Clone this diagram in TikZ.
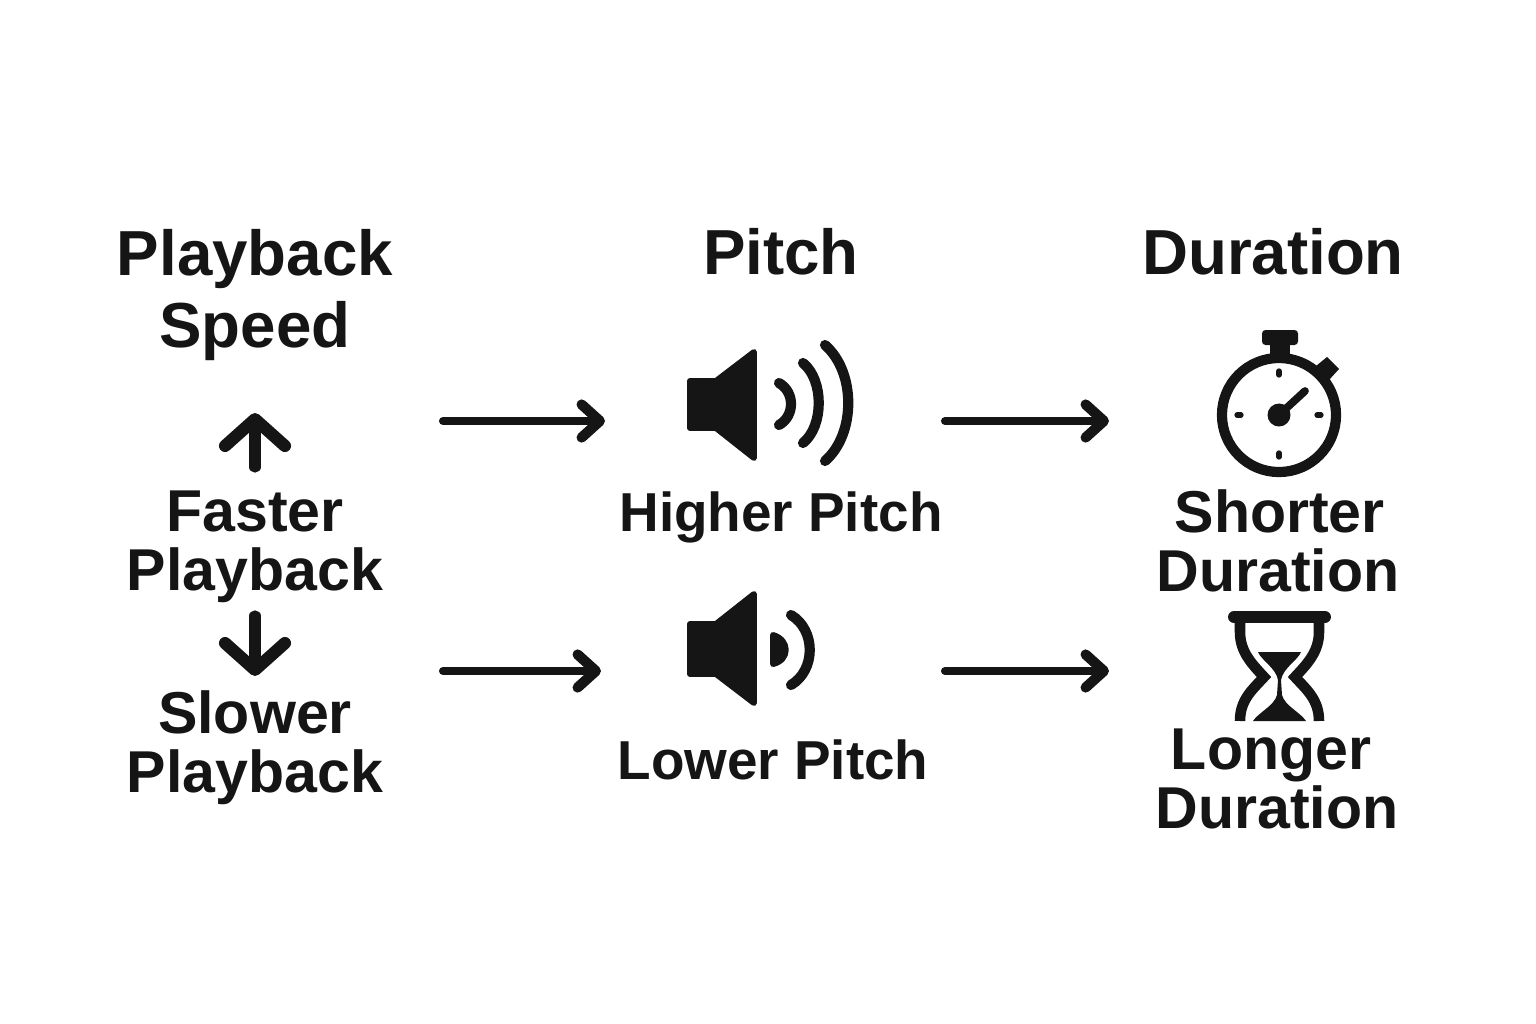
\documentclass[tikz,border=0pt]{standalone}
\usepackage{fontspec}
\setmainfont{Liberation Sans}
\usepackage{xcolor}
\usetikzlibrary{positioning,arrows.meta}
\definecolor{inkblack}{HTML}{151515}
\tikzstyle{headNode} = [text centered, align=center, text=inkblack, inner sep=0pt, font=\bfseries\fontsize{18.1}{20.4}\selectfont]
\tikzstyle{labelNode} = [text centered, align=center, text=inkblack, inner sep=0pt, font=\bfseries\fontsize{16.8}{16.7}\selectfont]
\tikzstyle{pitchNode} = [labelNode, font=\bfseries\fontsize{15.6}{16.7}\selectfont]
\tikzstyle{flowArrow} = [draw=inkblack, line width=2.3pt, line cap=round, -{Straight Barb[round,length=5.2pt,width=9.4pt,line width=2.9pt]}]
\tikzstyle{speedArrow} = [draw=inkblack, line width=3.2pt, line cap=round, -{Straight Barb[round,length=7.6pt,width=17pt,line width=3.5pt]}]
\tikzstyle{solidIcon} = [fill=inkblack, draw=inkblack, line width=1.7pt, line join=round]
\tikzstyle{waveLine} = [draw=inkblack, line cap=round, line width=2.9pt]
\tikzstyle{tickLine} = [draw=inkblack, line cap=round, line width=1.5pt]

\begin{document}
\begin{tikzpicture}[x=0.01cm,y=-0.01cm]
            \useasboundingbox (0,0) rectangle (1536,1024);
            % headings
            \node(speed) at (255,295) [headNode]{Playback\\[0.3pt]Speed};
            \node(pitch) at (781,252) [headNode]{Pitch};
            \node(duration) at (1273,252) [headNode]{Duration};
            % left column
            \node(faster) at (255,547) [labelNode]{Faster\\Playback};
            \node(slower) at (255,748) [labelNode]{Slower\\Playback};
            \coordinate(upTail) at (255,467);
            \coordinate(upTip) at (255,413);
            \coordinate(downTail) at (255,616);
            \coordinate(downTip) at (255,676);
            \draw[speedArrow](upTail)--(upTip);
            \draw[speedArrow](downTail)--(downTip);
            % middle column
            \node(higher) at (781,517) [pitchNode]{Higher Pitch};
            \node(lower) at (773,760) [pitchNode]{Lower Pitch};
            % higher pitch speaker
            \path[solidIcon] (690,381)--(716,381)--(754,352)--(754,458)--(716,428)--(690,428)--cycle;
            \draw[waveLine] (779,383) .. controls (795,392) and (795,416) .. (779,425);
            \draw[waveLine] (803,363) .. controls (824,380) and (824,426) .. (803,443);
            \draw[waveLine] (825,345) .. controls (856,372) and (856,434) .. (825,461);
            % lower pitch speaker
            \path[solidIcon] (690,624)--(716,624)--(754,594)--(754,703)--(716,674)--(690,674)--cycle;
            \path[solidIcon] (773,635) .. controls (790,640) and (790,660) .. (773,664)--cycle;
            \draw[waveLine] (791,615) .. controls (816,630) and (816,670) .. (791,685);
            % right column
            \node(shorter) at (1278,541) [labelNode]{\hspace*{1pt}Shorter\\Duration};
            \node(longer) at (1277,779) [labelNode]{Longer\hspace*{3.4pt}\\Duration};
            % stopwatch
            \draw[draw=inkblack,line width=2.9pt] (1279,415) circle (0.57cm);
            \path[fill=inkblack,rounded corners=1pt] (1262,330) rectangle (1298,345);
            \path[fill=inkblack] (1270,345) rectangle (1290,360);
            \path[fill=inkblack] (1327,357)--(1339,369)--(1329,380)--(1316,366)--cycle;
            \draw[tickLine] (1279,371)--(1279,375);
            \draw[tickLine] (1279,453)--(1279,457);
            \draw[tickLine] (1237,415)--(1241,415);
            \draw[tickLine] (1317,415)--(1321,415);
            \fill[inkblack] (1279,415) circle (0.115cm);
            \draw[draw=inkblack,line cap=round,line width=2.2pt] (1279,415)--(1305,391);
            % hourglass
            \draw[draw=inkblack,line cap=round,line width=3.4pt] (1234,617)--(1325,617);
            \draw[draw=inkblack,line width=3pt] (1240,620)--(1240,632) .. controls (1240,652) and (1252,664) .. (1264,677) .. controls (1252,690) and (1240,700) .. (1240,721);
            \draw[draw=inkblack,line width=3pt] (1319,620)--(1319,632) .. controls (1319,652) and (1307,664) .. (1295,677) .. controls (1307,690) and (1319,700) .. (1319,721);
            \fill[inkblack] (1258,652)--(1301,652) .. controls (1298,660) and (1283,668) .. (1281,680)--(1282,695) .. controls (1285,706) and (1300,712) .. (1306,721)--(1253,721) .. controls (1259,712) and (1274,706) .. (1277,695)--(1278,680) .. controls (1276,668) and (1261,660) .. (1258,652)--cycle;
            % arrows between the columns
            \coordinate(rateHigh) at (443,421);
            \coordinate(pitchHighIn) at (605,421);
            \coordinate(pitchHighOut) at (945,421);
            \coordinate(shortIn) at (1109,421);
            \coordinate(rateLow) at (443,671);
            \coordinate(pitchLowIn) at (601,671);
            \coordinate(pitchLowOut) at (945,671);
            \coordinate(longIn) at (1109,671);
            \draw[flowArrow](rateHigh)--(pitchHighIn);
            \draw[flowArrow](pitchHighOut)--(shortIn);
            \draw[flowArrow](rateLow)--(pitchLowIn);
            \draw[flowArrow](pitchLowOut)--(longIn);
        \end{tikzpicture}
\end{document}
